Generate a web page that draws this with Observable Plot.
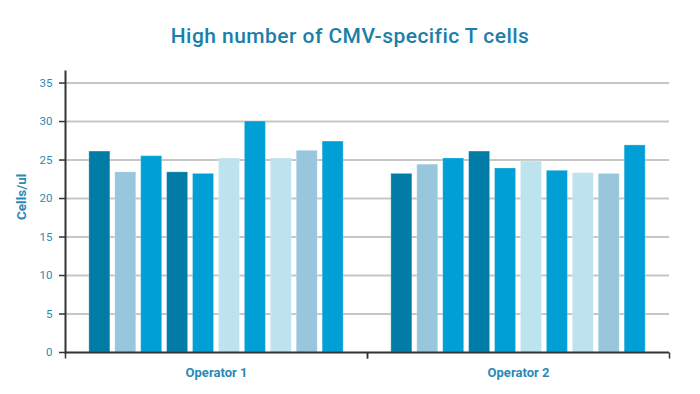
<!DOCTYPE html>
<html><head><meta charset="utf-8">
<script src="https://cdn.jsdelivr.net/npm/d3@7"></script>
<script src="https://cdn.jsdelivr.net/npm/@observablehq/plot@0.6"></script>
<style>
body{margin:0;background:#fff;width:700px;height:394px;overflow:hidden;font-family:Roboto,sans-serif}
#title{position:relative;height:60px}
#title span{position:absolute;left:0;right:0;top:26px;text-align:center;font-size:21px;line-height:21px;font-weight:500;letter-spacing:0.45px;color:#1a80a9}
</style></head><body>
<div id="title"><span>High number of CMV-specific T cells</span></div>
<div id="chart"></div>
<script>
const operators = ["Operator 1", "Operator 2"];
const barIds = [1, 2, 3, 4, 5, 6, 7, 8, 9, 10];
const operator1 = [26.1, 23.4, 25.5, 23.4, 23.2, 25.2, 30.0, 25.2, 26.2, 27.4];
const operator2 = [23.2, 24.4, 25.2, 26.1, 23.9, 24.8, 23.6, 23.3, 23.2, 26.9];
const barColors = ["#007ca6", "#98c6dd", "#00a0d6", "#007ca6", "#00a0d6", "#bde3ee", "#00a0d6", "#bde3ee", "#98c6dd", "#00a0d6"];
const yTicks = [0, 5, 10, 15, 20, 25, 30, 35];
const yLabel = "Cells/ul";

const rows = [];
[operator1, operator2].forEach((vals, i) => vals.forEach((v, j) =>
  rows.push({op: operators[i], id: barIds[j], value: v, color: barColors[j]})));

const teal = "#2b8ab4";
const axisDark = "#333";
const tickSym = {draw(ctx) { ctx.moveTo(0, 0); ctx.lineTo(0, 6); }};

const chart = Plot.plot({
  width: 700, height: 334,
  marginTop: 11, marginBottom: 42, marginLeft: 65, marginRight: 31,
  style: {fontFamily: "Roboto, sans-serif", background: "white"},
  fx: {domain: operators, padding: 0, round: false, axis: null, label: null},
  x: {domain: barIds, paddingInner: 0.19, paddingOuter: 0.92, round: false, axis: null},
  y: {domain: [0, 36.5], axis: null, label: null},
  marks: [
    Plot.ruleY(yTicks.slice(1), {stroke: "#c6c6c6", strokeWidth: 2}),
    Plot.barY(rows, {fx: "op", x: "id", y: "value", fill: "color", stroke: "white", strokeOpacity: 0.25, strokeWidth: 1}),
    Plot.ruleY([0], {stroke: axisDark, strokeWidth: 2}),
    Plot.frame({anchor: "left", facetAnchor: "left", stroke: axisDark, strokeWidth: 2}),
    Plot.dot([0], {frameAnchor: "bottom-left", symbol: tickSym, stroke: axisDark, strokeWidth: 1.5}),
    Plot.dot([0], {frameAnchor: "bottom-right", symbol: tickSym, stroke: axisDark, strokeWidth: 1.5}),
    Plot.axisY(yTicks, {tickSize: 6, tickFormat: () => "", stroke: axisDark, strokeWidth: 1.5, label: null}),
    Plot.axisY(yTicks, {tickSize: 0, tickPadding: 13, fill: teal, fontSize: 11.5, label: null}),
    Plot.axisFx({anchor: "bottom", tickSize: 0, tickPadding: 15, fontSize: 13, fontWeight: "bold", fill: teal, label: null}),
    Plot.text([{op: operators[0], t: yLabel}], {fx: "op", text: "t", frameAnchor: "left", rotate: -90, dx: -44, dy: 8, fill: teal, fontWeight: "bold", fontSize: 13.5})
  ]
});
document.getElementById("chart").appendChild(chart);
</script>
</body></html>
